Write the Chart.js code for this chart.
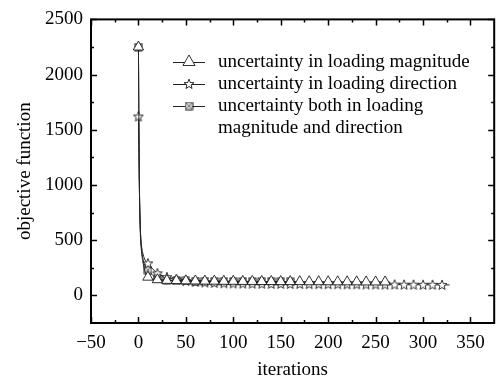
<!DOCTYPE html>
<html>
<head>
<meta charset="utf-8">
<script src="https://cdn.jsdelivr.net/npm/chart.js@4.4.1/dist/chart.umd.min.js"></script>
<style>
html, body { margin: 0; padding: 0; background: #fff; }
</style>
</head>
<body>
<canvas id="chart" width="501" height="381"></canvas>
<script>
// iterations and objective values
const magIter = [0, 1, 2, 3, 5, 7, 10, 20, 30, 40, 50, 60, 70, 80, 90, 100, 110, 120, 130, 140, 150, 160, 170, 180, 190, 200, 210, 220, 230, 240, 250, 260, 265];
const magValues = [2250, 1000, 560, 420, 290, 215, 165, 142, 136, 134, 132, 131, 130, 129, 128, 128, 127, 127, 126, 126, 125, 125, 125, 124, 124, 124, 123, 123, 123, 122, 122, 122, 121];

const dirIter = [0, 1, 2, 3, 5, 7, 10, 20, 30, 40, 50, 60, 70, 80, 90, 100, 110, 120, 130, 140, 150, 160, 170, 180, 190, 200, 210, 220, 230, 240, 250, 260, 270, 280, 290, 300, 310, 320, 328];
const dirValues = [1620, 950, 600, 470, 370, 320, 290, 200, 165, 145, 130, 122, 117, 113, 110, 108, 107, 106, 105, 104, 104, 103, 103, 102, 102, 101, 101, 100, 100, 99, 99, 98, 98, 97, 97, 96, 96, 95, 95];

const bothIter = [0, 1, 2, 3, 5, 7, 10, 20, 30, 40, 50, 60, 70, 80, 90, 100, 110, 120, 130, 140, 150, 160, 165];
const bothValues = [2250, 1050, 620, 450, 320, 265, 230, 150, 138, 134, 132, 130, 129, 128, 127, 127, 126, 126, 125, 125, 124, 124, 123];

const seriesLabels = [
  ['uncertainty in loading magnitude'],
  ['uncertainty in loading direction'],
  ['uncertainty both in loading', 'magnitude and direction']
];

const xTickValues = [-50, 0, 50, 100, 150, 200, 250, 300, 350];
const yTickValues = [0, 500, 1000, 1500, 2000, 2500];

const serif = '"Liberation Serif", "Times New Roman", serif';

function toPoints(iters, vals) {
  return iters.map((it, i) => ({ x: it, y: vals[i] }));
}

// open star marker
function makeStar() {
  const c = document.createElement('canvas');
  c.width = 12; c.height = 12;
  const g = c.getContext('2d');
  g.beginPath();
  for (let i = 0; i < 10; i++) {
    const a = -Math.PI / 2 + i * Math.PI / 5;
    const r = i % 2 ? 2.2 : 5.2;
    const px = 6 + Math.cos(a) * r, py = 6.3 + Math.sin(a) * r;
    if (i === 0) g.moveTo(px, py); else g.lineTo(px, py);
  }
  g.closePath();
  g.fillStyle = '#fff'; g.fill();
  g.strokeStyle = '#000'; g.lineWidth = 0.8; g.stroke();
  return c;
}

// square with a cross inside
function makeBoxX() {
  const c = document.createElement('canvas');
  c.width = 9; c.height = 9;
  const g = c.getContext('2d');
  g.fillStyle = '#fff'; g.fillRect(1, 1, 7, 7);
  g.strokeStyle = '#000'; g.lineWidth = 0.9;
  g.strokeRect(1, 1, 7, 7);
  g.beginPath();
  g.moveTo(2.5, 2.5); g.lineTo(6.5, 6.5);
  g.moveTo(6.5, 2.5); g.lineTo(2.5, 6.5);
  g.stroke();
  return c;
}

const starImg = makeStar();
const boxImg = makeBoxX();

// markers only every 10 iterations
function markerRadius(r) {
  return c => (c.raw && c.raw.x % 10 === 0) ? r : 0;
}

const frameTicks = {
  id: 'frameTicks',
  afterDatasetsDraw(chart) {
    const { ctx, chartArea: a, scales: { x, y } } = chart;
    ctx.save();
    ctx.strokeStyle = '#000';
    ctx.lineWidth = 1.5;
    ctx.beginPath();
    const xMinor = xTickValues.map(v => v + 25).filter(v => v < x.max);
    const yMinor = yTickValues.map(v => v - 250).filter(v => v > y.min);
    [[xTickValues, 6], [xMinor, 3]].forEach(([vals, len]) => {
      vals.forEach(v => {
        const px = Math.round(x.getPixelForValue(v)) + 0.5;
        ctx.moveTo(px, a.bottom); ctx.lineTo(px, a.bottom - len);
        ctx.moveTo(px, a.top); ctx.lineTo(px, a.top + len);
      });
    });
    [[yTickValues, 6], [yMinor, 3]].forEach(([vals, len]) => {
      vals.forEach(v => {
        const py = Math.round(y.getPixelForValue(v)) + 0.5;
        ctx.moveTo(a.left, py); ctx.lineTo(a.left + len, py);
        ctx.moveTo(a.right, py); ctx.lineTo(a.right - len, py);
      });
    });
    ctx.stroke();
    ctx.lineWidth = 2;
    ctx.strokeRect(a.left, a.top, a.right - a.left, a.bottom - a.top);
    ctx.restore();
  }
};

const boxLegend = {
  id: 'boxLegend',
  afterDraw(chart) {
    const ctx = chart.ctx;
    const x0 = 173, x1 = 205, xm = 189, xt = 218;
    let yy = 62;
    ctx.save();
    ctx.font = '19px ' + serif;
    ctx.textBaseline = 'middle';
    ctx.fillStyle = '#000';
    seriesLabels.forEach((lines, i) => {
      ctx.strokeStyle = '#222';
      ctx.lineWidth = 1;
      ctx.beginPath();
      ctx.moveTo(x0, yy + 0.5); ctx.lineTo(x1, yy + 0.5);
      ctx.stroke();
      if (i === 0) {
        const r = 7;
        ctx.beginPath();
        ctx.moveTo(xm, yy - r);
        ctx.lineTo(xm + r * 0.866, yy + r / 2);
        ctx.lineTo(xm - r * 0.866, yy + r / 2);
        ctx.closePath();
        ctx.fillStyle = '#fff'; ctx.fill();
        ctx.strokeStyle = '#000'; ctx.lineWidth = 0.8; ctx.stroke();
      } else {
        const img = i === 1 ? starImg : boxImg;
        ctx.drawImage(img, xm - img.width / 2, yy - img.height / 2);
      }
      ctx.fillStyle = '#000';
      lines.forEach((t, k) => ctx.fillText(t, xt, yy + k * 22));
      yy += 22 * lines.length;
    });
    ctx.restore();
  }
};

const lineStyle = {
  borderColor: '#222',
  borderWidth: 1,
  pointBackgroundColor: '#fff',
  pointBorderColor: '#000',
  pointBorderWidth: 0.8,
  cubicInterpolationMode: 'monotone',
  fill: false
};

new Chart(document.getElementById('chart'), {
  type: 'line',
  data: {
    datasets: [
      Object.assign({ label: seriesLabels[0].join(' '), data: toPoints(magIter, magValues), pointStyle: 'triangle', pointRadius: markerRadius(6) }, lineStyle),
      Object.assign({ label: seriesLabels[1].join(' '), data: toPoints(dirIter, dirValues), pointStyle: starImg, pointRadius: markerRadius(5) }, lineStyle),
      Object.assign({ label: seriesLabels[2].join(' '), data: toPoints(bothIter, bothValues), pointStyle: boxImg, pointRadius: markerRadius(4) }, lineStyle)
    ]
  },
  options: {
    responsive: false,
    animation: false,
    layout: { padding: { top: 17, right: 4, left: 0, bottom: 0 } },
    plugins: { legend: { display: false }, tooltip: { enabled: false } },
    scales: {
      x: {
        type: 'linear',
        min: -50,
        max: 375,
        afterBuildTicks: s => { s.ticks = xTickValues.map(v => ({ value: v })); },
        afterFit: s => { s.height = 58; },
        grid: { display: false, drawTicks: false },
        border: { display: false },
        ticks: {
          padding: 9,
          color: '#000',
          maxRotation: 0,
          autoSkip: false,
          font: { family: serif, size: 19 },
          callback: v => v < 0 ? '\u2212' + Math.abs(v) : String(v)
        },
        title: { display: true, text: 'iterations', color: '#000', font: { family: serif, size: 19 }, padding: { top: 0, bottom: 0 } }
      },
      y: {
        min: -250,
        max: 2500,
        afterBuildTicks: s => { s.ticks = yTickValues.map(v => ({ value: v })); },
        afterFit: s => { s.width = 91; },
        grid: { display: false, drawTicks: false },
        border: { display: false },
        ticks: {
          padding: 8,
          color: '#000',
          font: { family: serif, size: 19 },
          callback: v => String(v)
        },
        title: { display: true, text: 'objective function', color: '#000', font: { family: serif, size: 19 }, padding: { top: 14, bottom: 14 } }
      }
    }
  },
  plugins: [frameTicks, boxLegend]
});
</script>
</body>
</html>
